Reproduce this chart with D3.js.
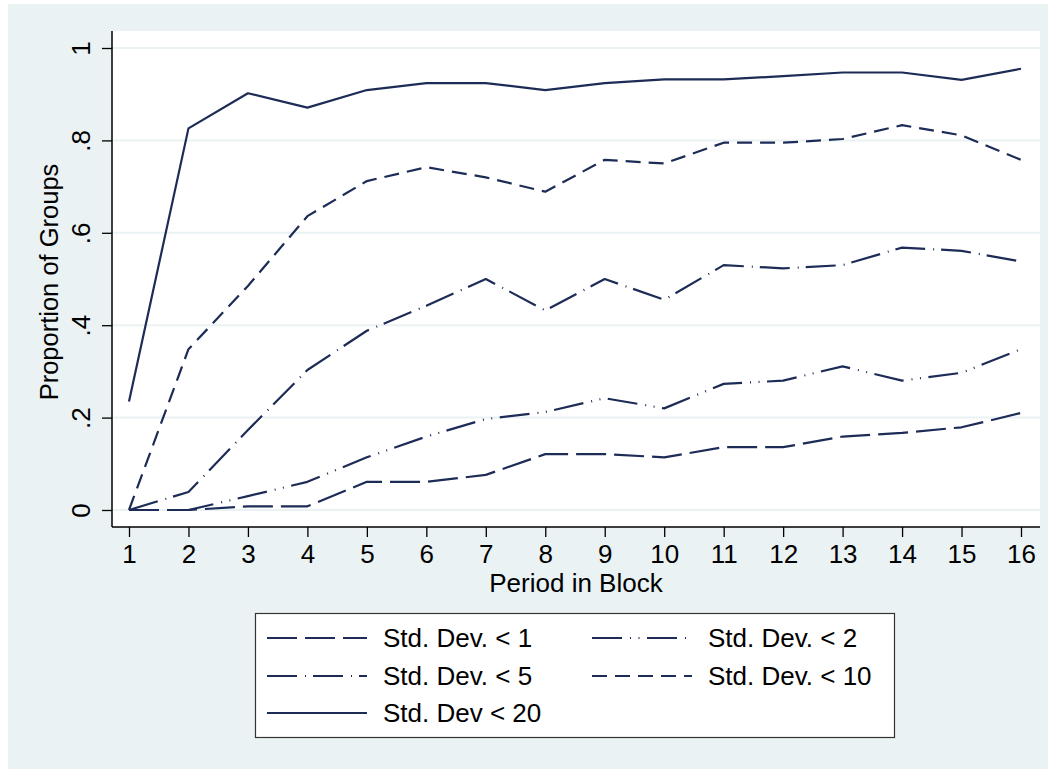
<!DOCTYPE html>
<html>
<head>
<meta charset="utf-8">
<script src="https://cdn.jsdelivr.net/npm/d3@7"></script>
<style>
  html, body { margin: 0; padding: 0; background: #ffffff; }
  svg { display: block; }
  text { font-family: "Liberation Sans", Arial, Helvetica, sans-serif; fill: #000; }
</style>
</head>
<body>
<svg id="chart" width="1053" height="772"></svg>
<script>
// ---- data ----
const periods = [1, 2, 3, 4, 5, 6, 7, 8, 9, 10, 11, 12, 13, 14, 15, 16];
const sd1  = [0, 0, 0.008, 0.008, 0.061, 0.061, 0.076, 0.121, 0.121, 0.114, 0.136, 0.136, 0.159, 0.167, 0.179, 0.210];
const sd2  = [0, 0, 0.030, 0.061, 0.114, 0.159, 0.197, 0.212, 0.242, 0.220, 0.273, 0.280, 0.311, 0.280, 0.297, 0.348];
const sd5  = [0, 0.039, 0.173, 0.303, 0.388, 0.442, 0.500, 0.432, 0.500, 0.455, 0.530, 0.523, 0.530, 0.568, 0.561, 0.538];
const sd10 = [0, 0.348, 0.485, 0.636, 0.712, 0.742, 0.720, 0.689, 0.758, 0.750, 0.795, 0.795, 0.803, 0.833, 0.811, 0.758];
const sd20 = [0.235, 0.826, 0.902, 0.871, 0.909, 0.924, 0.924, 0.909, 0.924, 0.932, 0.932, 0.939, 0.947, 0.947, 0.931, 0.955];
const yTicks = [0, 0.2, 0.4, 0.6, 0.8, 1];
const yTickLabels = ["0", ".2", ".4", ".6", ".8", "1"];
const seriesNames = ["Std. Dev. < 1", "Std. Dev. < 2", "Std. Dev. < 5", "Std. Dev. < 10", "Std. Dev < 20"];
const xTitle = "Period in Block";
const yTitle = "Proportion of Groups";

// ---- styles ----
const lineColor = "#1d2c57";
const dashes = ["30,8", "30,8,1,7.5,1,7.5", "30,8,1,7", "15,8", null];
const seriesData = [sd1, sd2, sd5, sd10, sd20];
const fs = 26;

const svg = d3.select("#chart");

// outer background
svg.append("rect").attr("x", 8).attr("y", 4).attr("width", 1040).attr("height", 765).attr("fill", "#eaf2f3");

// plot region
const plot = { left: 112, right: 1040, top: 31, bottom: 527 };
svg.append("rect").attr("x", plot.left).attr("y", plot.top)
  .attr("width", plot.right - plot.left).attr("height", plot.bottom - plot.top).attr("fill", "#ffffff");

const x = d3.scaleLinear().domain([1, 16]).range([129, 1021]);
const y = d3.scaleLinear().domain([0, 1]).range([510, 48]);

// gridlines
svg.append("g").selectAll("line").data(yTicks).join("line")
  .attr("x1", plot.left).attr("x2", plot.right)
  .attr("y1", d => y(d)).attr("y2", d => y(d))
  .attr("stroke", "#eaf2f3").attr("stroke-width", 2);

// series lines
const line = d3.line().x((d, i) => x(periods[i])).y(d => y(d));
seriesData.forEach((s, k) => {
  const p = svg.append("path").datum(s).attr("d", line)
    .attr("fill", "none").attr("stroke", lineColor).attr("stroke-width", 2.2)
    .attr("stroke-linejoin", "round");
  if (dashes[k]) p.attr("stroke-dasharray", dashes[k]);
});

// y axis
const yAxis = d3.axisLeft(y).tickValues(yTicks).tickSize(10).tickPadding(12)
  .tickFormat((d, i) => yTickLabels[i]);
const gy = svg.append("g").attr("transform", `translate(${plot.left},0)`).call(yAxis);
gy.select(".domain").attr("d", `M0,${plot.top}V${plot.bottom}`).attr("stroke", "#000").attr("stroke-width", 1.5);
gy.selectAll(".tick line").attr("stroke", "#000").attr("stroke-width", 1.3);
gy.selectAll(".tick text")
  .attr("font-size", fs).attr("text-anchor", "middle")
  .attr("x", null).attr("dy", null)
  .attr("transform", "translate(-22,0) rotate(-90)")
  .attr("y", 0);

// x axis
const xAxis = d3.axisBottom(x).tickValues(periods).tickSize(10).tickPadding(10)
  .tickFormat(d3.format("d"));
const gx = svg.append("g").attr("transform", `translate(0,${plot.bottom})`).call(xAxis);
gx.select(".domain").attr("d", `M${plot.left},0H${plot.right}`).attr("stroke", "#000").attr("stroke-width", 1.5);
gx.selectAll(".tick line").attr("stroke", "#000").attr("stroke-width", 1.3);
gx.selectAll(".tick text").attr("font-size", fs).attr("dy", null).attr("y", 36);

// axis titles
svg.append("text").attr("x", 576).attr("y", 592).attr("text-anchor", "middle")
  .attr("font-size", fs).text(xTitle);
svg.append("text").attr("transform", "translate(58,282) rotate(-90)")
  .attr("text-anchor", "middle").attr("font-size", 25.5).text(yTitle);

// legend
const legend = svg.append("g");
legend.append("rect").attr("x", 255.5).attr("y", 613.5).attr("width", 639).attr("height", 124)
  .attr("fill", "#ffffff").attr("stroke", "#333").attr("stroke-width", 1.2);
const legPos = [
  { lx: 267, ly: 638 }, { lx: 592, ly: 638 },
  { lx: 267, ly: 676 }, { lx: 592, ly: 676 },
  { lx: 267, ly: 713 }
];
seriesNames.forEach((name, k) => {
  const p = legPos[k];
  const l = legend.append("line").attr("x1", p.lx).attr("x2", p.lx + 100)
    .attr("y1", p.ly).attr("y2", p.ly)
    .attr("stroke", lineColor).attr("stroke-width", 2.2);
  if (dashes[k]) l.attr("stroke-dasharray", dashes[k]);
  legend.append("text").attr("x", p.lx + 116).attr("y", p.ly + 9)
    .attr("font-size", fs).text(name);
});
</script>
</body>
</html>
